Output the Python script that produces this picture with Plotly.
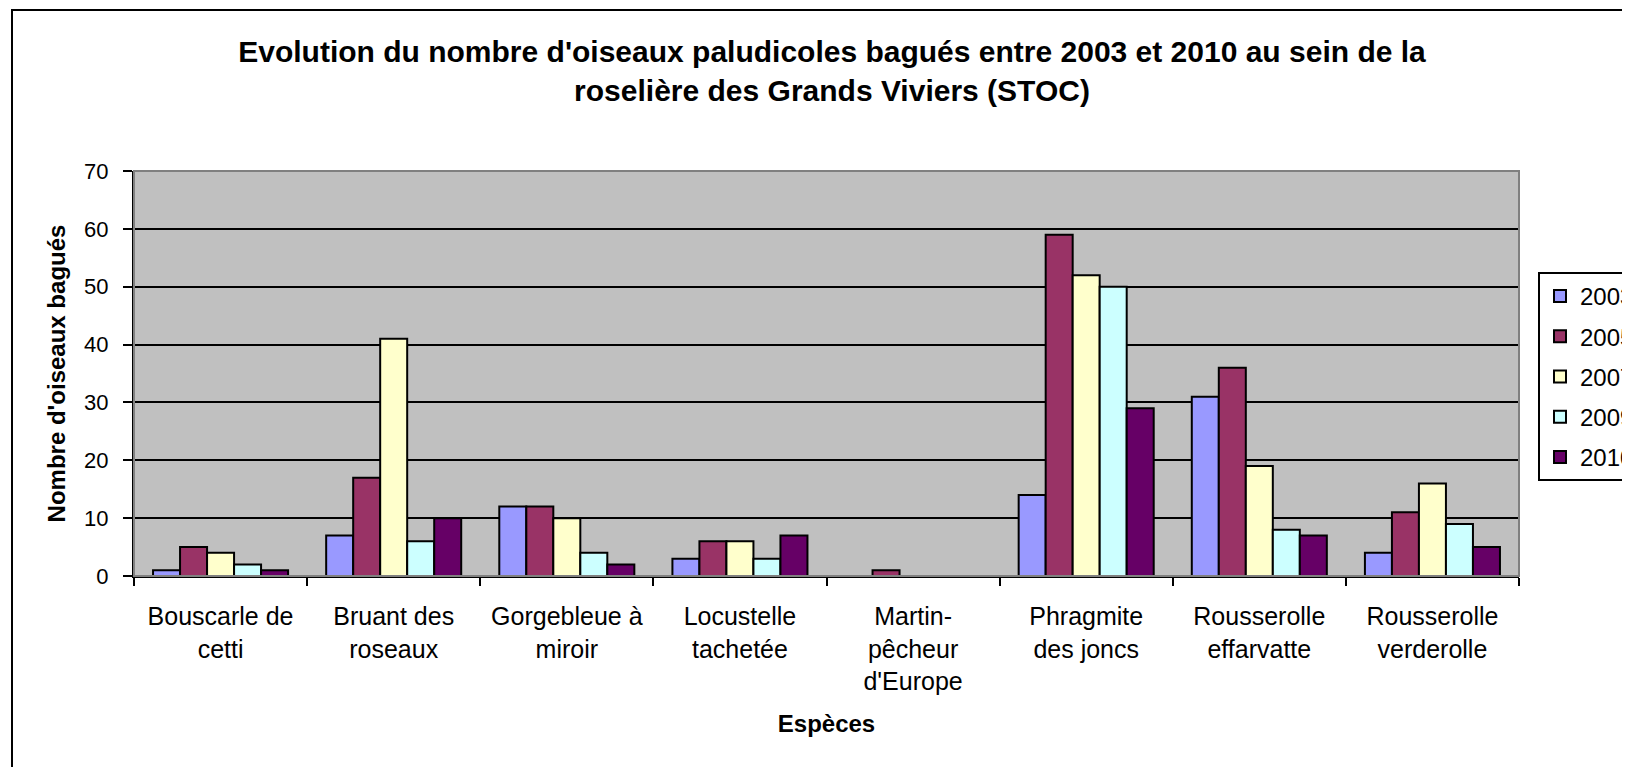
import plotly.graph_objects as go

categories = ["Bouscarle de<br>cetti", "Bruant des<br>roseaux", "Gorgebleue à<br>miroir",
              "Locustelle<br>tachetée", "Martin-<br>pêcheur<br>d'Europe", "Phragmite<br>des joncs",
              "Rousserolle<br>effarvatte", "Rousserolle<br>verderolle"]
years = ["2003", "2005", "2007", "2009", "2010"]
v2003 = [1, 7, 12, 3, 0, 14, 31, 4]
v2005 = [5, 17, 12, 6, 1, 59, 36, 11]
v2007 = [4, 41, 10, 6, 0, 52, 19, 16]
v2009 = [2, 6, 4, 3, 0, 50, 8, 9]
v2010 = [1, 10, 2, 7, 0, 29, 7, 5]
colors = ["#9999FF", "#993366", "#FFFFCC", "#CCFFFF", "#660066"]
series = [v2003, v2005, v2007, v2009, v2010]

W, H = 1630, 767
L, R, T, B = 126, 1511, 163, 568

fig = go.Figure()
for yr, vals, c in zip(years, series, colors):
    fig.add_trace(go.Bar(x=categories, y=vals, name=yr, legendgroup=yr,
                         marker=dict(color=c, line=dict(color="black", width=2))))

font = "Liberation Sans, Arial, sans-serif"
pw = R - L
ph = B - T
fig.update_layout(
    width=W, height=H,
    margin=dict(l=L, r=W - R, t=T, b=H - B, autoexpand=False),
    paper_bgcolor="white", plot_bgcolor="#C0C0C0",
    barmode="group", bargap=0.22, bargroupgap=0,
    font=dict(family=font, color="black", size=21),
    title=dict(text="<b>Evolution du nombre d'oiseaux paludicoles bagués entre 2003 et 2010 au sein de la<br>roselière des Grands Viviers (STOC)</b>",
               x=824 / W, xanchor="center", y=1 - 54 / H, yanchor="top",
               font=dict(size=30, family=font, color="black")),
    xaxis=dict(showline=True, linecolor="black", linewidth=2, ticks="outside",
               tickson="boundaries", ticklen=8, tickwidth=2, tickcolor="black",
               tickfont=dict(size=25), showgrid=False, ticklabelstandoff=17,
               title=dict(text="<b>Espèces</b>", font=dict(size=24), standoff=21)),
    yaxis=dict(range=[0, 70], dtick=10, showline=True, linecolor="black", linewidth=2,
               ticks="outside", ticklen=9, tickwidth=2, tickcolor="black",
               showgrid=True, gridcolor="black", gridwidth=1.5, zeroline=False,
               tickfont=dict(size=22), ticklabelstandoff=10,
               title=dict(text="<b>Nombre d'oiseaux bagués</b>", font=dict(size=24), standoff=12)),
    legend=dict(x=(1530 - L) / pw, xanchor="left", y=(B - 264) / ph, yanchor="top",
                bgcolor="white", bordercolor="black", borderwidth=2,
                font=dict(size=24), traceorder="grouped", tracegroupgap=6),
)
# plot area border (grey top/right)
fig.add_shape(type="rect", xref="paper", yref="paper", x0=0, x1=1, y0=0, y1=1,
              line=dict(color="#808080", width=2), layer="above")
# outer chart border
fig.add_shape(type="rect", xref="paper", yref="paper",
              x0=(4 - L) / pw, x1=(1700 - L) / pw, y0=(B - 900) / ph, y1=(B - 2) / ph,
              line=dict(color="black", width=2))
fig.write_html("out.html")
